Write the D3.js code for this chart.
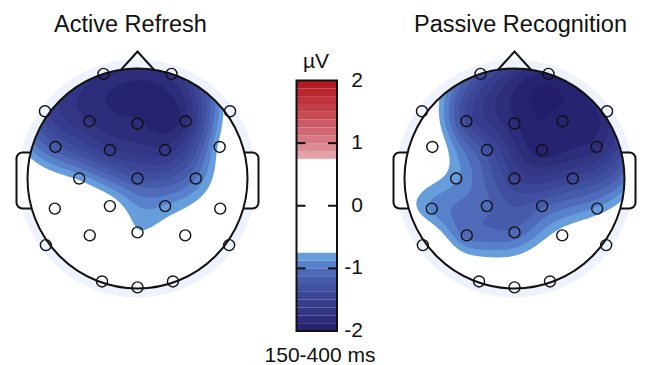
<!DOCTYPE html>
<html>
<head>
<meta charset="utf-8">
<script src="https://cdn.jsdelivr.net/npm/d3@7"></script>
<style>
  body { margin: 0; background: #fff; }
  text { font-family: "Liberation Sans", Arial, sans-serif; fill: #111; }
</style>
</head>
<body>
<svg id="chart" width="646" height="365"></svg>
<script>
// montage: angle from nose (deg, negative = left) and radius (1 = head edge)
const channels = ["Fp1","Fp2","F7","F3","Fz","F4","F8","FC5","FC1","FC2","FC6","C3","Cz","C4","CP5","CP1","CP2","CP6","P7","P3","Pz","P4","P8","O1","Oz","O2"];
const chanTheta = [-18,18,-54,-40,0,40,54,-69,-44,44,69,-90,0,90,-110,-135,135,110,-126,-140,180,140,126,-161,180,161];
const chanRadius = [1.0,1.0,1.04,0.68,0.5,0.68,1.04,0.80,0.36,0.36,0.80,0.53,0,0.53,0.80,0.355,0.355,0.80,1.03,0.675,0.49,0.675,1.03,0.99,0.99,0.99];

// mean amplitude (µV), 150-400 ms
const activeRefresh = [-1.75,-1.7,-1.45,-1.75,-1.85,-1.8,-0.6,-1.2,-1.6,-1.7,-0.7,-0.78,-1.25,-1.0,-0.25,-0.6,-0.86,-0.5,-0.1,-0.3,-0.73,-0.5,-0.3,-0.2,-0.3,-0.3];
const passiveRecognition = [-1.3,-1.9,-0.4,-1.4,-1.85,-1.95,-1.75,-0.5,-1.3,-1.95,-1.8,-0.85,-1.5,-1.45,-0.9,-1.1,-1.15,-0.85,-0.35,-1.05,-1.1,-0.65,-0.3,-0.4,-0.4,-0.3];

const conditions = ["Active Refresh", "Passive Recognition"];
const colorTicks = [2, 1, 0, -1, -2];
const unitLabel = "µV";
const windowLabel = "150-400 ms";

const svg = d3.select("#chart");
const R = 110, CY = 178.5;
const headCX = [137.5, 514.5];
const titleX = [130.5, 520.5];

// colour levels: white between -0.75 and 0.75, bands of 0.125 beyond
const step = 0.125;
const levels = d3.range(0.75, 2.0001, step);
const blue = d3.scaleLinear()
    .domain([0.75, 0.9, 1.0, 1.2, 1.4, 1.6, 1.8, 2.0])
    .range(["#6fa9e2", "#5c8bd2", "#5171c0", "#4659aa", "#3d4899", "#363b8b", "#2e2e7d", "#231f6b"]);
const red = d3.scaleLinear()
    .domain([0.75, 1.0, 1.5, 2.0])
    .range(["#e6acb2", "#d87f88", "#c4444e", "#b0141d"]);
const bandColor = (sign, L) => (sign < 0 ? blue : red)(Math.min(L + step / 2, 2));

// electrode xy in head units
const chanX = chanTheta.map((t, i) => chanRadius[i] * Math.sin(t * Math.PI / 180));
const chanY = chanTheta.map((t, i) => -chanRadius[i] * Math.cos(t * Math.PI / 180));

// biharmonic spline (griddata v4 style)
function green(d) { return d === 0 ? 0 : d * d * (Math.log(d) - 1); }
function solve(A, b) {
    const n = b.length;
    A = A.map(r => r.slice()); b = b.slice();
    for (let c = 0; c < n; c++) {
        let p = c;
        for (let r = c + 1; r < n; r++) if (Math.abs(A[r][c]) > Math.abs(A[p][c])) p = r;
        [A[c], A[p]] = [A[p], A[c]]; [b[c], b[p]] = [b[p], b[c]];
        for (let r = c + 1; r < n; r++) {
            const f = A[r][c] / A[c][c];
            for (let k = c; k < n; k++) A[r][k] -= f * A[c][k];
            b[r] -= f * b[c];
        }
    }
    const x = new Array(n).fill(0);
    for (let r = n - 1; r >= 0; r--) {
        let s = b[r];
        for (let k = r + 1; k < n; k++) s -= A[r][k] * x[k];
        x[r] = s / A[r][r];
    }
    return x;
}
function interpolator(values) {
    const n = values.length;
    const G = d3.range(n).map(i => d3.range(n).map(j => green(Math.hypot(chanX[i] - chanX[j], chanY[i] - chanY[j]))));
    const w = solve(G, values);
    return (x, y) => {
        let s = 0;
        for (let i = 0; i < n; i++) s += w[i] * green(Math.hypot(x - chanX[i], y - chanY[i]));
        return s;
    };
}

const N = 141, lo = -1.08, hi = 1.08;
const gstep = (hi - lo) / (N - 1);

function drawHead(k, values, title) {
    const cx = headCX[k];
    const sx = d3.scaleLinear().domain([-1, 1]).range([cx - R, cx + R]);
    const sy = d3.scaleLinear().domain([-1, 1]).range([CY - R, CY + R]);
    const g = svg.append("g");

    g.append("text").attr("x", titleX[k]).attr("y", 32).attr("text-anchor", "middle")
        .attr("font-size", 23.5).text(title);

    // faint outer ring
    g.append("circle").attr("cx", cx).attr("cy", CY).attr("r", R + 9).attr("fill", "#eef2fc");

    // ears
    [-1, 1].forEach(s => {
        const x0 = s < 0 ? cx - R - 11 : cx + R - 14;
        g.append("rect").attr("x", x0).attr("y", CY - 26).attr("width", 25).attr("height", 56)
            .attr("rx", 6).attr("fill", "#fff").attr("stroke", "#111").attr("stroke-width", 2);
    });

    g.append("circle").attr("cx", cx).attr("cy", CY).attr("r", R).attr("fill", "#fff");

    // interpolated map
    const f = interpolator(values);
    const grid = new Float64Array(N * N);
    for (let j = 0; j < N; j++)
        for (let i = 0; i < N; i++)
            grid[j * N + i] = f(lo + i * gstep, lo + j * gstep);

    const tr = d3.geoTransform({
        point(x, y) { this.stream.point(sx(lo + (x - 0.5) * gstep), sy(lo + (y - 0.5) * gstep)); }
    });
    const path = d3.geoPath(tr);
    const clipId = "clip" + k;
    g.append("clipPath").attr("id", clipId).append("circle")
        .attr("cx", cx).attr("cy", CY).attr("r", R);

    const mapG = g.append("g").attr("clip-path", `url(#${clipId})`);
    const neg = Array.from(grid, v => -v);
    const contNeg = d3.contours().size([N, N]).thresholds(levels)(neg);
    const contPos = d3.contours().size([N, N]).thresholds(levels)(Array.from(grid));
    contNeg.forEach(c => mapG.append("path").attr("d", path(c)).attr("fill", bandColor(-1, c.value)));
    contPos.forEach(c => mapG.append("path").attr("d", path(c)).attr("fill", bandColor(1, c.value)));

    // head outline and nose
    g.append("circle").attr("cx", cx).attr("cy", CY).attr("r", R)
        .attr("fill", "none").attr("stroke", "#111").attr("stroke-width", 2);
    const nb = 16.5, ny = CY - Math.sqrt(R * R - nb * nb);
    g.append("path")
        .attr("d", `M${cx - nb},${ny}L${cx},${CY - R - 17}L${cx + nb},${ny}`)
        .attr("fill", "none").attr("stroke", "#111").attr("stroke-width", 2);

    // electrodes
    g.selectAll(".el").data(channels).join("circle")
        .attr("cx", (d, i) => sx(chanX[i]))
        .attr("cy", (d, i) => sy(chanY[i]))
        .attr("r", 5.5).attr("fill", "none").attr("stroke", "#111").attr("stroke-width", 1.4);
}

drawHead(0, activeRefresh, conditions[0]);
drawHead(1, passiveRecognition, conditions[1]);

// colour bar
const cbX0 = 296.5, cbX1 = 337;
const cy = d3.scaleLinear().domain([-2, 2]).range([331, 80.5]);
const cb = svg.append("g");
cb.append("rect").attr("x", cbX0).attr("y", cy(2)).attr("width", cbX1 - cbX0)
    .attr("height", cy(-2) - cy(2)).attr("fill", "#fff");
levels.forEach(L => {
    const top = Math.min(L + step, 2);
    cb.append("rect").attr("x", cbX0).attr("width", cbX1 - cbX0)
        .attr("y", cy(top)).attr("height", cy(L) - cy(top)).attr("fill", bandColor(1, L));
    cb.append("rect").attr("x", cbX0).attr("width", cbX1 - cbX0)
        .attr("y", cy(-L)).attr("height", cy(-top) - cy(-L)).attr("fill", bandColor(-1, L));
});
cb.append("rect").attr("x", cbX0).attr("y", cy(2)).attr("width", cbX1 - cbX0)
    .attr("height", cy(-2) - cy(2)).attr("fill", "none").attr("stroke", "#111").attr("stroke-width", 2);
colorTicks.forEach(t => {
    if (Math.abs(t) < 2) {
        cb.append("line").attr("x1", cbX0).attr("x2", cbX0 + 9).attr("y1", cy(t)).attr("y2", cy(t))
            .attr("stroke", "#111").attr("stroke-width", 2);
        cb.append("line").attr("x1", cbX1 - 9).attr("x2", cbX1).attr("y1", cy(t)).attr("y2", cy(t))
            .attr("stroke", "#111").attr("stroke-width", 2);
    }
    cb.append("text").attr("x", 363).attr("y", cy(t) + 6).attr("text-anchor", "end")
        .attr("font-size", 21).text(t < 0 ? "-" + Math.abs(t) : t);
});
cb.append("text").attr("x", 316).attr("y", 68).attr("text-anchor", "middle")
    .attr("font-size", 21).text(unitLabel);
cb.append("text").attr("x", 320).attr("y", 362).attr("text-anchor", "middle")
    .attr("font-size", 21).text(windowLabel);
</script>
</body>
</html>
